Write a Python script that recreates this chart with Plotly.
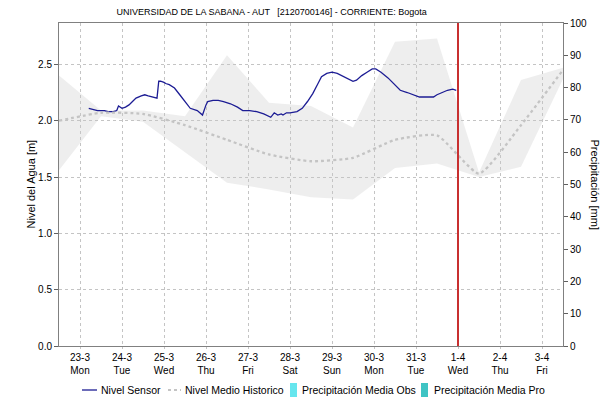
import plotly.graph_objects as go
from datetime import datetime, timedelta

# ---- data -------------------------------------------------------------
base = datetime(2020, 3, 23)

# Sensor water level (hours counted from 23-3 00:00, metres)
sensor_hours = [5, 7, 10, 14, 16, 19, 21, 22, 24, 26,
                28, 30, 32, 35, 37, 39, 42, 44, 45, 46,
                48, 49, 51, 54, 57, 60, 63, 67, 70, 72,
                73, 76, 79, 82, 86, 90, 93, 97, 101, 105,
                109, 111, 113, 115, 116, 118, 120, 124, 127, 130,
                133, 136, 138, 141, 144, 147, 151, 153, 156, 158,
                161, 164, 167, 169, 172, 176, 180, 183, 187, 191,
                194, 202, 204, 207, 210, 213, 215]
sensor_level = [2.11, 2.10, 2.09, 2.09, 2.08, 2.08, 2.09, 2.13, 2.11, 2.12,
                2.14, 2.17, 2.20, 2.22, 2.23, 2.22, 2.21, 2.20, 2.35, 2.35,
                2.34, 2.33, 2.32, 2.29, 2.23, 2.17, 2.11, 2.09, 2.05, 2.14,
                2.17, 2.18, 2.18, 2.17, 2.15, 2.12, 2.09, 2.09, 2.08, 2.06,
                2.03, 2.07, 2.05, 2.06, 2.05, 2.07, 2.07, 2.08, 2.11, 2.17,
                2.24, 2.33, 2.39, 2.42, 2.43, 2.42, 2.39, 2.37, 2.35, 2.36,
                2.40, 2.43, 2.46, 2.46, 2.43, 2.38, 2.32, 2.27, 2.25, 2.23,
                2.21, 2.21, 2.23, 2.25, 2.27, 2.28, 2.27]

# Historical daily statistics (noon of each day, 22-3 .. 3-4)
hist_dates = ["2020-03-22 12:00", "2020-03-23 12:00", "2020-03-24 12:00",
              "2020-03-25 12:00", "2020-03-26 12:00", "2020-03-27 12:00",
              "2020-03-28 12:00", "2020-03-29 12:00", "2020-03-30 12:00",
              "2020-03-31 12:00", "2020-04-01 12:00", "2020-04-02 12:00",
              "2020-04-03 12:00"]
hist_mean = [2.00, 2.07, 2.06, 1.96, 1.83, 1.70, 1.64, 1.67, 1.83, 1.87, 1.53, 1.96, 2.45]
hist_upper = [2.40, 2.09, 2.09, 2.04, 2.58, 2.16, 2.13, 1.94, 2.70, 2.73, 1.54, 2.36, 2.47]
hist_lower = [1.56, 2.04, 1.99, 1.72, 1.45, 1.39, 1.32, 1.30, 1.58, 1.62, 1.50, 1.59, 2.37]

# Precipitation (mm) – no rainfall in the period
precip_dates = ["2020-03-23", "2020-03-24", "2020-03-25", "2020-03-26",
                "2020-03-27", "2020-03-28", "2020-03-29", "2020-03-30",
                "2020-03-31", "2020-04-01", "2020-04-02", "2020-04-03"]
precip_obs = [0] * 12
precip_pro = [0] * 12

tick_dates = ["2020-03-23", "2020-03-24", "2020-03-25", "2020-03-26",
              "2020-03-27", "2020-03-28", "2020-03-29", "2020-03-30",
              "2020-03-31", "2020-04-01", "2020-04-02", "2020-04-03"]
tick_labels = ["23-3<br>Mon", "24-3<br>Tue", "25-3<br>Wed", "26-3<br>Thu",
               "27-3<br>Fri", "28-3<br>Sat", "29-3<br>Sun", "30-3<br>Mon",
               "31-3<br>Tue", "1-4<br>Wed", "2-4<br>Thu", "3-4<br>Fri"]
now_marker = "2020-04-01 00:00"

sensor_time = [base + timedelta(hours=h) for h in sensor_hours]

FONT = "Liberation Sans"
GRID = "#c4c4c4"
SENSOR_COLOR = "#1c1c94"
MEAN_COLOR = "#c4c4c4"
OBS_COLOR = "#66e6ee"
PRO_COLOR = "#3fc4c4"

# plot-area geometry (pixels) used to place the legend row below the axes
W, H = 605, 401
ML, MR, MT, MB = 59, 42, 23, 55
PW, PH = W - ML - MR, H - MT - MB


def px(x):
    return (x - ML) / PW


def py(y):
    return (H - MB - y) / PH


fig = go.Figure()

# historical range band
fig.add_trace(go.Scatter(x=hist_dates, y=hist_lower, mode="lines",
                         line=dict(width=0), showlegend=False, hoverinfo="skip"))
fig.add_trace(go.Scatter(x=hist_dates, y=hist_upper, mode="lines",
                         line=dict(width=0), fill="tonexty",
                         fillcolor="rgba(200,200,200,0.3)",
                         showlegend=False, hoverinfo="skip"))

fig.add_trace(go.Scatter(x=sensor_time, y=sensor_level, mode="lines",
                         name="Nivel Sensor", showlegend=False,
                         line=dict(color=SENSOR_COLOR, width=1.3)))
fig.add_trace(go.Scatter(x=hist_dates, y=hist_mean, mode="lines",
                         name="Nivel Medio Historico", showlegend=False,
                         line=dict(color=MEAN_COLOR, width=2.3, dash="dot",
                                   shape="spline", smoothing=0.5)))
fig.add_trace(go.Bar(x=precip_dates, y=precip_obs, yaxis="y2",
                     name="Precipitación Media Obs", showlegend=False,
                     marker=dict(color=OBS_COLOR, line=dict(width=0))))
fig.add_trace(go.Bar(x=precip_dates, y=precip_pro, yaxis="y2",
                     name="Precipitación Media Pro", showlegend=False,
                     marker=dict(color=PRO_COLOR, line=dict(width=0))))

# current-time marker
fig.add_shape(type="line", xref="x", yref="paper", x0=now_marker, x1=now_marker,
              y0=0, y1=1, line=dict(color="#c83030", width=2), layer="above")

fig.update_layout(
    width=W, height=H,
    margin=dict(l=ML, r=MR, t=MT, b=MB),
    paper_bgcolor="white", plot_bgcolor="white",
    font=dict(family=FONT, size=10, color="#000"),
    title=dict(text="UNIVERSIDAD DE LA SABANA - AUT &nbsp; [2120700146] - CORRIENTE: Bogota",
               x=0.449, xanchor="center", y=0.97, yanchor="middle",
               font=dict(family=FONT, size=9, color="#000")),
    showlegend=False,
    bargap=0.3,
    xaxis=dict(type="date", range=["2020-03-22 12:00", "2020-04-03 12:00"],
               tickmode="array", tickvals=tick_dates, ticktext=tick_labels,
               showgrid=True, gridcolor=GRID, griddash="dot", gridwidth=1,
               ticks="outside", ticklen=2, tickcolor=GRID,
               showline=True, linecolor="#808080", linewidth=1, mirror=True,
               zeroline=False, tickfont=dict(size=10)),
    yaxis=dict(range=[0, 2.867], tickvals=[0, 0.5, 1.0, 1.5, 2.0, 2.5],
               tickformat=".1f", showgrid=True, gridcolor=GRID, griddash="dot",
               ticks="outside", ticklen=4, tickcolor="#606060",
               showline=True, linecolor="#808080", linewidth=1,
               zeroline=False, tickfont=dict(size=10)),
    yaxis2=dict(range=[0, 100], overlaying="y", side="right",
                tickvals=list(range(0, 101, 10)), showgrid=False,
                ticks="outside", ticklen=4, tickcolor="#606060",
                showline=True, linecolor="#808080", linewidth=1,
                zeroline=False, tickfont=dict(size=10)),
)

fig.add_annotation(text="Nivel del Agua [m]", xref="paper", yref="paper",
                   x=px(30), y=0.5, textangle=-90, showarrow=False,
                   xanchor="center", yanchor="middle", font=dict(size=11))
fig.add_annotation(text="Precipitación [mm]", xref="paper", yref="paper",
                   x=px(595), y=0.5, textangle=90, showarrow=False,
                   xanchor="center", yanchor="middle", font=dict(size=11))

# legend row
LEG_Y = 390
legend_font = dict(family=FONT, size=10.5, color="#000")
fig.add_shape(type="line", xref="paper", yref="paper", x0=px(82), x1=px(97),
              y0=py(LEG_Y), y1=py(LEG_Y), line=dict(color=SENSOR_COLOR, width=1.3))
fig.add_shape(type="line", xref="paper", yref="paper", x0=px(168), x1=px(181),
              y0=py(LEG_Y), y1=py(LEG_Y), line=dict(color=MEAN_COLOR, width=2, dash="dot"))
fig.add_shape(type="rect", xref="paper", yref="paper", x0=px(290), x1=px(297),
              y0=py(LEG_Y + 7), y1=py(LEG_Y - 7), line=dict(width=0), fillcolor=OBS_COLOR)
fig.add_shape(type="rect", xref="paper", yref="paper", x0=px(421), x1=px(428),
              y0=py(LEG_Y + 7), y1=py(LEG_Y - 7), line=dict(width=0), fillcolor=PRO_COLOR)
for label, lx in [("Nivel Sensor", 99), ("Nivel Medio Historico", 183),
                  ("Precipitación Media Obs", 300), ("Precipitación Media Pro", 432)]:
    fig.add_annotation(text=label, xref="paper", yref="paper", x=px(lx), y=py(LEG_Y),
                       xanchor="left", yanchor="middle", showarrow=False,
                       font=legend_font)

fig.write_html("out.html")
